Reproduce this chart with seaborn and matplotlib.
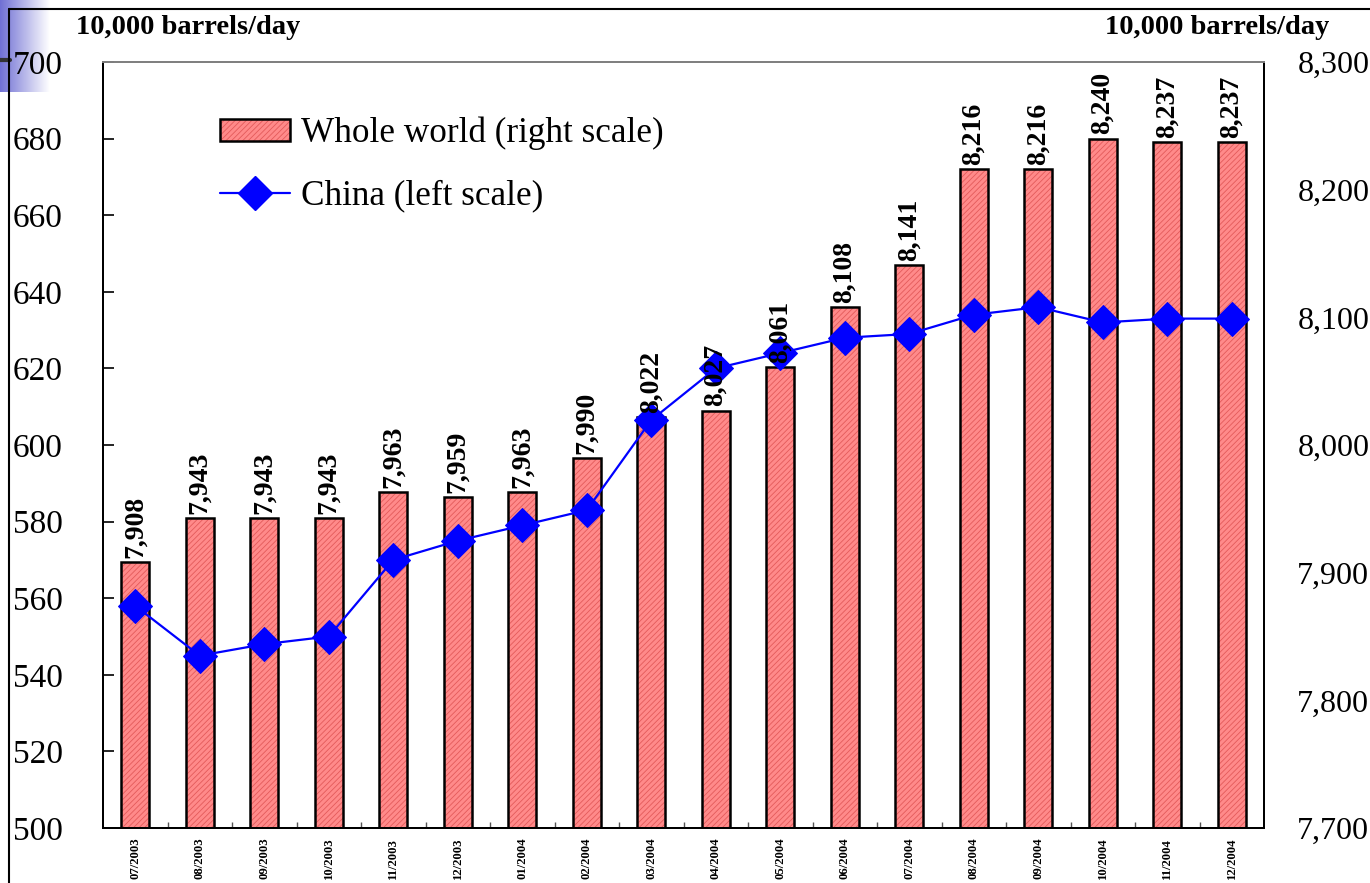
import numpy as np
import pandas as pd
import matplotlib
matplotlib.use("Agg")
import matplotlib.pyplot as plt
import seaborn as sns
from matplotlib.patches import Patch, Rectangle
from matplotlib.lines import Line2D
from matplotlib.legend_handler import HandlerTuple
from matplotlib.colors import LinearSegmentedColormap
from matplotlib.ticker import FuncFormatter

# data
months = ['07/2003', '08/2003', '09/2003', '10/2003', '11/2003', '12/2003',
          '01/2004', '02/2004', '03/2004', '04/2004', '05/2004', '06/2004',
          '07/2004', '08/2004', '09/2004', '10/2004', '11/2004', '12/2004']
world = [7908, 7943, 7943, 7943, 7963, 7959, 7963, 7990, 8022, 8027,
         8061, 8108, 8141, 8216, 8216, 8240, 8237, 8237]
china = [558, 545, 548, 550, 570, 575, 579, 583, 606.5, 620,
         624, 628, 629, 634, 636, 632, 633, 633]
left_ticks = list(range(500, 701, 20))
right_ticks = list(range(7700, 8301, 100))

df = pd.DataFrame({'month': months, 'world': world, 'china': china})

sns.set_theme(style="white")
plt.rcParams['font.family'] = ['Liberation Serif', 'DejaVu Serif']
plt.rcParams['hatch.linewidth'] = 0.6
plt.rcParams['text.color'] = 'black'
plt.rcParams['xtick.color'] = 'black'
plt.rcParams['ytick.color'] = 'black'

bar_fill = '#ff8a8a'
hatch_col = '#e35a5a'

W, H = 1370, 883
fig = plt.figure(figsize=(W / 100, H / 100), dpi=100)

# slide decoration in the corner
deco = fig.add_axes([0, 1 - 92 / H, 50 / W, 92 / H], zorder=0)
grad = np.linspace(0, 1, 100).reshape(1, -1)
deco.imshow(grad, aspect='auto',
            cmap=LinearSegmentedColormap.from_list('d', ['#7070d4', '#ffffff']))
deco.axis('off')
fig.add_artist(Line2D([0, 10 / W], [1 - 60 / H] * 2, color='#333333', lw=3))

# outer frame (top and left edges)
fig.add_artist(Line2D([9 / W, 1], [1 - 9 / H] * 2, color='black', lw=1.5))
fig.add_artist(Line2D([9 / W] * 2, [0, 1 - 9 / H], color='black', lw=1.5))

ax = fig.add_axes([103 / W, 1 - 828 / H, (1264 - 103) / W, (828 - 62) / H])
ax2 = ax.twinx()

# China line (left scale)
sns.lineplot(data=df, x='month', y='china', ax=ax, color='blue', marker='D',
             markersize=17, markeredgecolor='blue', linewidth=1.6, sort=False)

# Whole world bars (right scale)
sns.barplot(data=df, x='month', y='world', ax=ax2, color=bar_fill,
            saturation=1, width=0.43, linewidth=0)
bars = list(ax2.patches)
for p in bars:
    p.set_hatch('//////')
    p.set_edgecolor(hatch_col)
    p.set_linewidth(0)
    ax2.add_patch(Rectangle(p.get_xy(), p.get_width(), p.get_height(),
                            fill=False, edgecolor='black', linewidth=1.8))

ax.set_zorder(ax2.get_zorder() + 1)
ax.patch.set_visible(False)

# value labels on top of everything
for p, v in zip(bars, world):
    ax.annotate(f'{v:,}', xy=(p.get_x() + p.get_width() / 2, p.get_height()),
                xycoords=ax2.transData, xytext=(0, 3), textcoords='offset points',
                rotation=90, ha='center', va='bottom', fontsize=20,
                fontweight='bold', color='black', zorder=10)

ax.set_ylim(500, 700)
ax.set_yticks(left_ticks)
ax2.set_ylim(7700, 8300)
ax2.set_yticks(right_ticks)
ax2.yaxis.set_major_formatter(FuncFormatter(lambda v, _: f'{v:,.0f}'))
ax.set_xlim(-0.5, len(months) - 0.5)

ax.set_xticks(range(len(months)))
ax.set_xticklabels(months, rotation=90, fontsize=9.2, fontweight='bold')
ax.set_xticks(np.arange(0.5, len(months) - 1, 1), minor=True)
ax.tick_params(axis='x', which='major', length=0, pad=7, labelcolor='black')
ax.tick_params(axis='x', which='minor', direction='in', length=4, width=1,
               bottom=True, color='#555555')
ax.tick_params(axis='y', direction='in', length=8, width=1.2, pad=29,
               labelsize=24, left=True, color='black', labelcolor='black')
ax2.tick_params(axis='y', length=0, pad=24, labelsize=23, labelcolor='black')
for a in (ax, ax2):
    a.set_xlabel('')
    a.set_ylabel('')
    for side in ('left', 'right', 'bottom'):
        a.spines[side].set_color('black')
        a.spines[side].set_linewidth(1.4)
    a.spines['top'].set_color('#808080')
    a.spines['top'].set_linewidth(1.4)

# legend
h_bar = (Patch(facecolor=bar_fill, edgecolor=hatch_col, hatch='//////', lw=0),
         Patch(fill=False, edgecolor='black', lw=1.8))
h_line = Line2D([], [], color='blue', marker='D', markersize=17, lw=1.6)
ax.legend([h_bar, h_line], ['Whole world (right scale)', 'China (left scale)'],
          handler_map={tuple: HandlerTuple(ndivide=1, pad=0)},
          loc='upper left', bbox_to_anchor=(220 / W, 1 - 117 / H),
          bbox_transform=fig.transFigure, frameon=False, fontsize=25.3,
          handlelength=2.0, handleheight=0.6, handletextpad=0.3,
          labelspacing=0.82, borderpad=0, borderaxespad=0, labelcolor='black')

fig.text(188 / W, 1 - 28 / H, '10,000 barrels/day', ha='center', va='center',
         fontsize=20.5, fontweight='bold', color='black')
fig.text(1217 / W, 1 - 28 / H, '10,000 barrels/day', ha='center', va='center',
         fontsize=20.5, fontweight='bold', color='black')

fig.savefig('out.png', dpi=100)
